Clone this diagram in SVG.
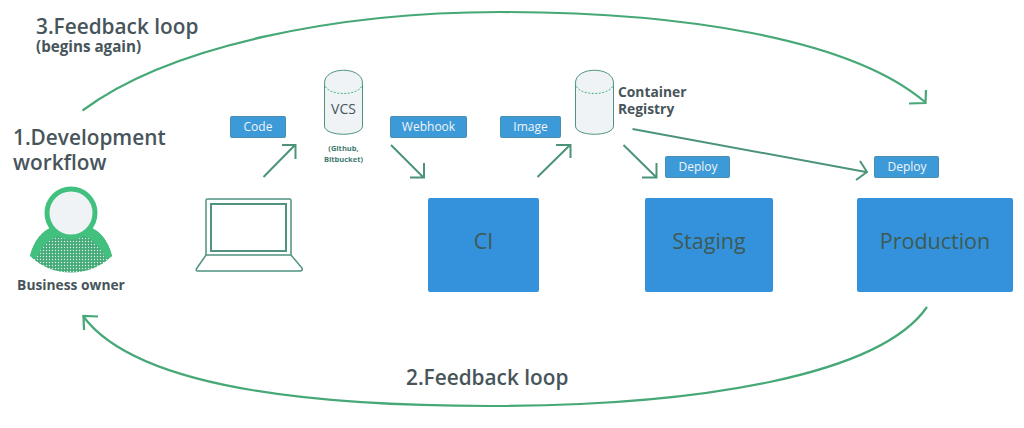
<svg xmlns="http://www.w3.org/2000/svg" width="1024" height="428" viewBox="0 0 1024 428">
<defs>
<pattern id="dots" width="3" height="3" patternUnits="userSpaceOnUse"><rect width="3" height="3" fill="#45ab78"/><circle cx="1.500" cy="1.500" r="0.700" fill="#dff2e8"/></pattern>
</defs>
<style>
text{font-family:"Open Sans","Noto Sans",sans-serif;fill:#47555b}
.h{font-size:20.800px;font-weight:600}
.b{font-size:13.800px;font-weight:700}
.s15{font-size:15.200px;font-weight:700}
.lbl rect{fill:#3d9ad9;stroke:#4a8fb0;stroke-width:1}
.lbl text{font-size:12px;fill:#f0f4f7;text-anchor:middle}
.box rect{fill:#3492dc}
.box text{font-size:21.500px;font-weight:500;text-anchor:middle;fill:#3f5a52}
.cyl path.o{fill:#eff3f6;stroke:#4f9380;stroke-width:1}
.cyl path.d{fill:none;stroke:#45b584;stroke-width:1;stroke-dasharray:2 1.500}
.c{fill:none;stroke:#46a877;stroke-width:2.200}
.s{fill:none;stroke:#4c9478;stroke-width:2}
</style>
<g id="connectors">
<path class="c" d="M82.500 110.500C170 45 340 12 500 12C680 12 850 38 925 102"/>
<path class="c" d="M909 103.500L925.500 103L926 90"/>
<path class="c" d="M927 307C880 375 700 406 490 406C280 406 130 380 83 316"/>
<path class="c" d="M84 330L83.500 316L98 316.500"/>
<path class="s" d="M263.500 177L295 145M282 145H295.500V159"/>
<path class="s" d="M391 145L423 177M410 177.500H424V163"/>
<path class="s" d="M537.500 177L570 145M556 145H570.500V158"/>
<path class="s" d="M623.500 145L656 177M642 177.500H656.500V163"/>
<path class="s" d="M632.500 129L866 172M860 161L867 172L856 180"/>
</g>
<g id="label-3"><text class="h" x="36" y="34">3.Feedback loop</text><text class="s15" x="36" y="52">(begins again)</text></g>
<g id="label-1"><text class="h" x="13" y="145">1.Development</text><text class="h" x="13" y="170">workflow</text></g>
<g id="label-2"><text class="h" x="406" y="385">2.Feedback loop</text></g>
<g id="business-owner">
<path d="M30 256C34 240 42 232 50 228L92 228C100 232 108 240 112 256C90 278 52 278 30 256Z" fill="url(#dots)"/>
<path d="M30 256C34 240 42 232 50 228L58 236C48 240 40 248 36 259L30 256ZM112 256C108 240 100 232 92 228L84 236C94 240 102 248 106 259L112 256Z" fill="#41c07e"/>
<circle cx="71" cy="213" r="24" fill="#eff3f6" stroke="#41c07e" stroke-width="5"/>
<text class="b" x="71" y="290" text-anchor="middle">Business owner</text>
</g>
<g id="laptop" fill="none" stroke="#4f9380" stroke-width="1.500">
<path d="M206 255V200.500Q206 199 207.500 199H289.500Q291 199 291 200.500V255" fill="#fff"/>
<rect x="211" y="204" width="75" height="47" stroke-width="2"/>
<path d="M206 255H291L302 268Q303 271 300 271H198Q195 271 197 268Z"/>
</g>
<g id="code" class="lbl"><rect x="230.500" y="116.500" width="55" height="21" rx="1"/><text x="258" y="131">Code</text></g>
<g id="vcs" class="cyl">
<path class="o" d="M324.500 83C324.500 66 362.500 66 362.500 83V126C362.500 137 324.500 137 324.500 126Z"/>
<path class="d" d="M324.500 83C324.500 97 362.500 97 362.500 83"/>
<text x="343.500" y="114" font-size="14" text-anchor="middle">VCS</text>
<text x="343.500" y="151" font-size="7.500" font-weight="700" text-anchor="middle" style="fill:#3f7a70">(Github,</text>
<text x="343.500" y="162" font-size="7.500" font-weight="700" text-anchor="middle" style="fill:#3f7a70">Bitbucket)</text>
</g>
<g id="webhook" class="lbl"><rect x="390.500" y="116.500" width="76" height="21" rx="1"/><text x="428.500" y="131">Webhook</text></g>
<g id="image" class="lbl"><rect x="500.500" y="116.500" width="60" height="21" rx="1"/><text x="530.500" y="131">Image</text></g>
<g id="registry" class="cyl">
<path class="o" d="M575.500 83C575.500 66 613.500 66 613.500 83V126C613.500 137 575.500 137 575.500 126Z"/>
<path class="d" d="M575.500 83C575.500 97 613.500 97 613.500 83"/>
<text class="b" x="618" y="97">Container</text>
<text class="b" x="618" y="114">Registry</text>
</g>
<g id="deploy-staging" class="lbl"><rect x="665.500" y="156.500" width="64" height="21" rx="1"/><text x="698" y="171">Deploy</text></g>
<g id="deploy-production" class="lbl"><rect x="874.500" y="156.500" width="64" height="21" rx="1"/><text x="907" y="171">Deploy</text></g>
<g id="ci" class="box"><rect x="428" y="198" width="111" height="94" rx="2"/><text x="483.500" y="249">CI</text></g>
<g id="staging" class="box"><rect x="645" y="198" width="128" height="94" rx="2"/><text x="709" y="249">Staging</text></g>
<g id="production" class="box"><rect x="857" y="198" width="156" height="94" rx="2"/><text x="935" y="249">Production</text></g>
</svg>
